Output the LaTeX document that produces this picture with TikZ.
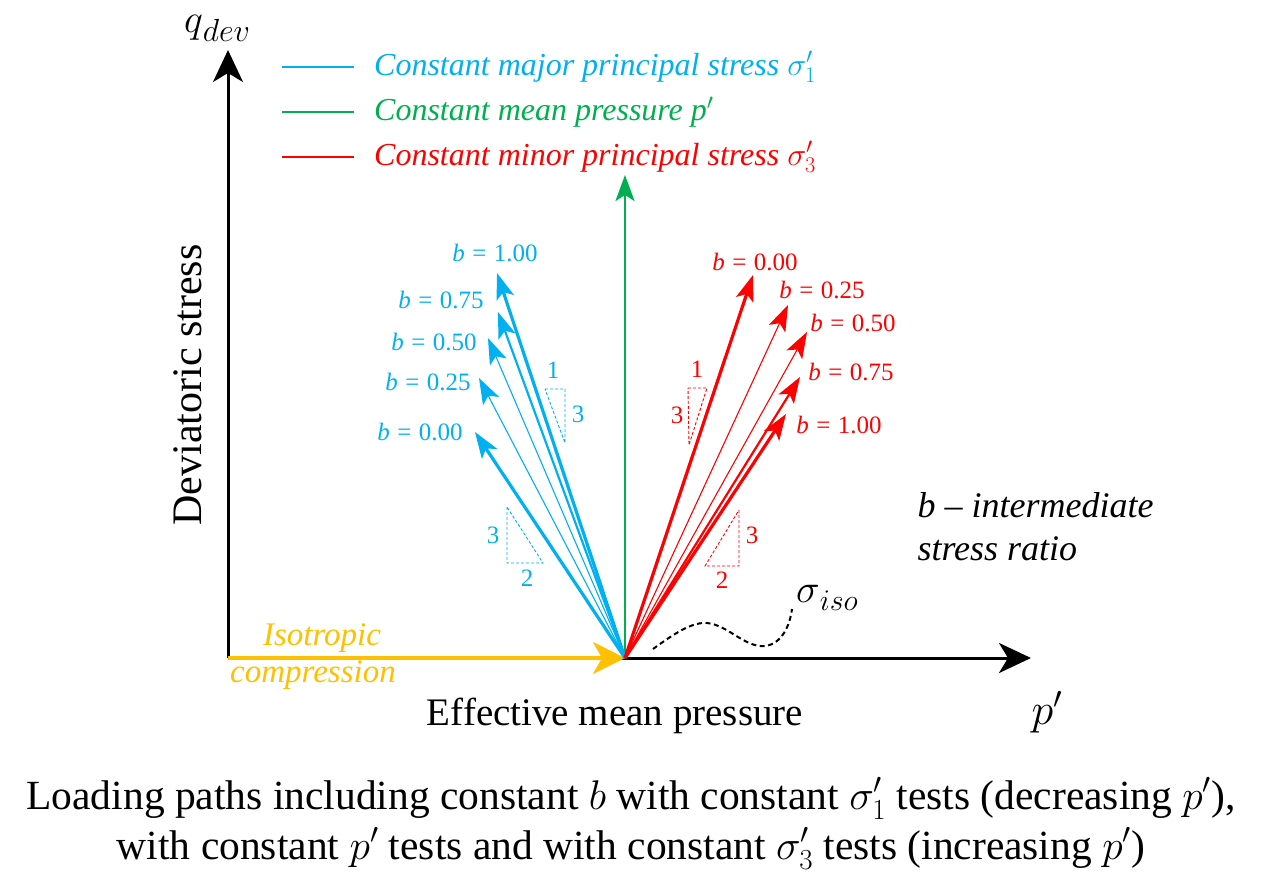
\RequirePackage{fix-cm}
\documentclass[tikz,border=0pt]{standalone}
\usepackage{fontspec}
\setmainfont{Liberation Serif}
\usetikzlibrary{arrows.meta}
\definecolor{cblue}{RGB}{0,176,240}
\definecolor{cgreen}{RGB}{0,176,80}
\definecolor{cred}{RGB}{255,0,0}
\definecolor{cyellow}{RGB}{255,192,0}
\newcommand{\beq}[1]{\textit{b}\hspace{0.3em}=\hspace{0.3em}#1}
\tikzset{
  axis/.style={line width=3pt,-{Stealth[length=32pt,width=30pt,inset=9pt]}},
  patharrow/.style={-{Stealth[length=26pt,width=18pt,inset=6pt]}},
  thickp/.style={patharrow,line width=3.2pt},
  medp/.style={patharrow,line width=2.2pt},
  thinp/.style={patharrow,line width=1.1pt},
  tri/.style={line width=0.9pt,dash pattern=on 3pt off 2pt},
  blab/.style={font=\fontsize{25}{28}\selectfont,inner sep=0pt},
  leg/.style={font=\fontsize{32}{35}\selectfont\itshape,anchor=west,inner sep=0pt},
  capline/.style={font=\fontsize{41.5}{46}\selectfont,anchor=base,inner sep=0pt},
}
\begin{document}
\begin{tikzpicture}[x=1pt,y=-1pt]
\useasboundingbox (0,0) rectangle (1262,886);
% origin and axes
\coordinate (O) at (625,658);
\coordinate (Ax0) at (228,658);
\coordinate (Ytip) at (228,50);
\coordinate (Xtip) at (1031,658);
\draw[axis] (O) -- (Xtip);
\draw[line width=3pt] (Ax0) -- (O);
\draw[axis] (Ax0) -- (Ytip);
\draw[line width=3.5pt,cyellow,-{Stealth[length=32pt,width=32pt,inset=9pt]}] (Ax0) -- (O);
% green
\coordinate (G) at (625,175);
\draw[cgreen,line width=2.8pt,-{Stealth[length=26pt,width=19pt,inset=6pt]}] (O) -- (G);
% blue arrows
\coordinate (B100) at (497,273);
\coordinate (B075) at (498,312);
\coordinate (B050) at (488,338);
\coordinate (B025) at (479,378);
\coordinate (B000) at (475,432);
\begin{scope}[cblue]
\draw[thickp] (O) -- (B100);
\draw[medp] (O) -- (B075);
\draw[thinp] (O) -- (B050);
\draw[thinp] (O) -- (B025);
\draw[thickp] (O) -- (B000);
\node[blab] (lb100) at (495,253) {\beq{1.00}};
\node[blab] (lb075) at (441,300) {\beq{0.75}};
\node[blab] (lb050) at (434,342) {\beq{0.50}};
\node[blab] (lb025) at (428,382) {\beq{0.25}};
\node[blab] (lb000) at (420,432) {\beq{0.00}};
% triangles
\draw[tri] (545,389) -- (565,389) -- (565,443) -- cycle;
\node[blab] (bt1) at (553,370) {1};
\node[blab] (bt3) at (578,414) {3};
\draw[tri] (507,507) -- (507,563) -- (543,563) -- cycle;
\node[blab] (bt3b) at (493,535) {3};
\node[blab] (bt2b) at (527,578) {2};
\end{scope}
% red arrows
\coordinate (R000) at (753,275);
\coordinate (R025) at (788,305);
\coordinate (R050) at (807,332);
\coordinate (R075) at (800,377);
\coordinate (R100) at (786,414);
\begin{scope}[cred]
\draw[thickp] (O) -- (R000);
\draw[thinp] (O) -- (R025);
\draw[thinp] (O) -- (R050);
\draw[medp] (O) -- (R075);
\draw[thickp] (O) -- (R100);
\node[blab] (lr000) at (755,262) {\beq{0.00}};
\node[blab] (lr025) at (822,290) {\beq{0.25}};
\node[blab] (lr050) at (853,323) {\beq{0.50}};
\node[blab] (lr075) at (851,372) {\beq{0.75}};
\node[blab] (lr100) at (839,425) {\beq{1.00}};
\draw[tri] (688,388) -- (707,388) -- (689,445) -- cycle;
\node[blab] (rt1) at (697,369) {1};
\node[blab] (rt3) at (677,415) {3};
\draw[tri] (739,510) -- (739,566) -- (705,566) -- cycle;
\node[blab] (rt3b) at (752,535) {3};
\node[blab] (rt2b) at (722,580) {2};
\end{scope}
% legend
\coordinate (L1a) at (282,67); \coordinate (L1b) at (354,67);
\coordinate (L2a) at (282,112); \coordinate (L2b) at (354,112);
\coordinate (L3a) at (282,157); \coordinate (L3b) at (354,157);
\draw[cblue,line width=1.6pt] (L1a) -- (L1b);
\draw[cgreen,line width=1.6pt] (L2a) -- (L2b);
\draw[cred,line width=1.6pt] (L3a) -- (L3b);
\node[leg,text=cblue] (t1) at (374,67) {Constant major principal stress $\sigma'_1$};
\node[leg,text=cgreen] (t2) at (374,112) {Constant mean pressure \textit{p}$'$};
\node[leg,text=cred] (t3) at (374,157) {Constant minor principal stress $\sigma'_3$};
% axis labels
\node[font=\fontsize{40}{44}\selectfont,inner sep=0pt] (qdev) at (217,28) {$q$\raisebox{-9pt}{\fontsize{32}{32}\selectfont$dev$}};
\node[font=\fontsize{44}{48}\selectfont,inner sep=0pt] (pp) at (1047,712) {$p'$};
\node[font=\fontsize{42}{46}\selectfont,rotate=90] (dev) at (188,385) {Deviatoric stress};
\node[font=\fontsize{39}{43}\selectfont] (emp) at (615,716) {Effective mean pressure};
\node[font=\fontsize{33}{36}\selectfont\itshape,text=cyellow] (iso1) at (322,638) {Isotropic};
\node[font=\fontsize{33}{36}\selectfont\itshape,text=cyellow] (iso2) at (313,675) {compression};
\node[font=\fontsize{36}{43}\selectfont\itshape,align=left,anchor=north west] (bdef) at (914,489) {\textit{b} -- intermediate\\stress ratio};
% sigma iso
\node[font=\fontsize{40}{44}\selectfont,inner sep=0pt] (siso) at (827,598) {$\sigma$\raisebox{-8pt}{\fontsize{30}{30}\selectfont$iso$}};
\draw[line width=2pt,dash pattern=on 5pt off 3.5pt] (653,649) .. controls (675,633) and (692,622) .. (707,623) .. controls (728,625) and (745,648) .. (765,646) .. controls (782,644) and (790,625) .. (792,609);
% caption
\node[capline] (cap1) at (631,809) {Loading paths including constant $b$ with constant $\sigma'_1$ tests (decreasing $p'$),};
\node[capline] (cap2) at (631,859) {with constant $p'$ tests and with constant $\sigma'_3$ tests (increasing $p'$)};
\end{tikzpicture}
\end{document}
